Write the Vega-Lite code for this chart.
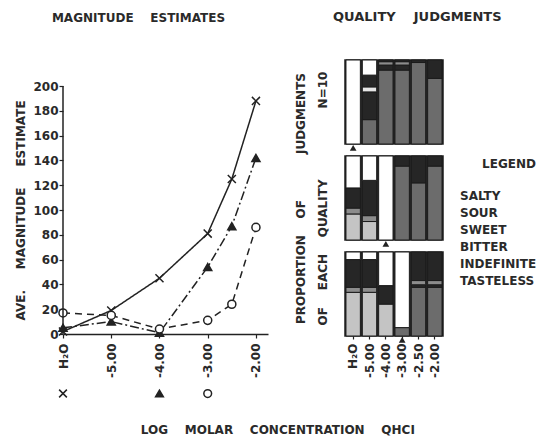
{
  "$schema": "https://vega.github.io/schema/vega-lite/v6.json",
  "padding": {"left": 14, "top": 10, "right": 2, "bottom": 4},
  "background": "white",
  "config": {
    "font": "DejaVu Sans",
    "view": {"stroke": null},
    "axis": {"labelFont": "DejaVu Sans", "labelFontSize": 12, "labelFontWeight": "bold", "labelColor": "#2a2a2a", "titleFont": "DejaVu Sans", "titleFontSize": 12, "titleFontWeight": "bold", "titleColor": "#2a2a2a", "domainColor": "#222222", "tickColor": "#222222", "domainWidth": 1.5, "tickWidth": 1.2, "grid": false},
    "title": {"font": "DejaVu Sans", "fontSize": 12, "fontWeight": "bold", "color": "#2a2a2a"}
  },
  "datasets": {
    "magnitude": [
      {"series": "cross", "conc": -6, "value": 2},
      {"series": "cross", "conc": -5, "value": 19},
      {"series": "cross", "conc": -4, "value": 45},
      {"series": "cross", "conc": -3, "value": 81},
      {"series": "cross", "conc": -2.5, "value": 125},
      {"series": "cross", "conc": -2, "value": 188},
      {"series": "triangle", "conc": -6, "value": 5},
      {"series": "triangle", "conc": -5, "value": 10},
      {"series": "triangle", "conc": -4, "value": 1},
      {"series": "triangle", "conc": -3, "value": 54},
      {"series": "triangle", "conc": -2.5, "value": 87},
      {"series": "triangle", "conc": -2, "value": 142},
      {"series": "circle", "conc": -6, "value": 17},
      {"series": "circle", "conc": -5, "value": 15},
      {"series": "circle", "conc": -4, "value": 4},
      {"series": "circle", "conc": -3, "value": 11},
      {"series": "circle", "conc": -2.5, "value": 24},
      {"series": "circle", "conc": -2, "value": 86}
    ],
    "thresholds": [
      {"series": "cross", "conc": -6},
      {"series": "triangle", "conc": -4},
      {"series": "circle", "conc": -3}
    ],
    "axisLine": [{"conc": -6, "from": 0, "to": 200}],
    "quality": [
      {"panel": 1, "conc": "H\u2082O", "quality": "TASTELESS", "p": 1.0, "seg": 1},
      {"panel": 1, "conc": "-5.00", "quality": "BITTER", "p": 0.29, "seg": 1},
      {"panel": 1, "conc": "-5.00", "quality": "INDEFINITE", "p": 0.33, "seg": 2},
      {"panel": 1, "conc": "-5.00", "quality": "SWEET", "p": 0.06, "seg": 3},
      {"panel": 1, "conc": "-5.00", "quality": "INDEFINITE", "p": 0.14, "seg": 4},
      {"panel": 1, "conc": "-5.00", "quality": "TASTELESS", "p": 0.18, "seg": 5},
      {"panel": 1, "conc": "-4.00", "quality": "BITTER", "p": 0.88, "seg": 1},
      {"panel": 1, "conc": "-4.00", "quality": "INDEFINITE", "p": 0.06, "seg": 2},
      {"panel": 1, "conc": "-4.00", "quality": "SOUR", "p": 0.04, "seg": 3},
      {"panel": 1, "conc": "-4.00", "quality": "INDEFINITE", "p": 0.02, "seg": 4},
      {"panel": 1, "conc": "-3.00", "quality": "BITTER", "p": 0.88, "seg": 1},
      {"panel": 1, "conc": "-3.00", "quality": "INDEFINITE", "p": 0.06, "seg": 2},
      {"panel": 1, "conc": "-3.00", "quality": "SOUR", "p": 0.04, "seg": 3},
      {"panel": 1, "conc": "-3.00", "quality": "INDEFINITE", "p": 0.02, "seg": 4},
      {"panel": 1, "conc": "-2.50", "quality": "BITTER", "p": 0.97, "seg": 1},
      {"panel": 1, "conc": "-2.50", "quality": "INDEFINITE", "p": 0.03, "seg": 2},
      {"panel": 1, "conc": "-2.00", "quality": "BITTER", "p": 0.78, "seg": 1},
      {"panel": 1, "conc": "-2.00", "quality": "INDEFINITE", "p": 0.22, "seg": 2},
      {"panel": 2, "conc": "H\u2082O", "quality": "SALTY", "p": 0.31, "seg": 1},
      {"panel": 2, "conc": "H\u2082O", "quality": "SOUR", "p": 0.07, "seg": 2},
      {"panel": 2, "conc": "H\u2082O", "quality": "INDEFINITE", "p": 0.24, "seg": 3},
      {"panel": 2, "conc": "H\u2082O", "quality": "TASTELESS", "p": 0.38, "seg": 4},
      {"panel": 2, "conc": "-5.00", "quality": "SALTY", "p": 0.22, "seg": 1},
      {"panel": 2, "conc": "-5.00", "quality": "SOUR", "p": 0.07, "seg": 2},
      {"panel": 2, "conc": "-5.00", "quality": "INDEFINITE", "p": 0.42, "seg": 3},
      {"panel": 2, "conc": "-5.00", "quality": "TASTELESS", "p": 0.29, "seg": 4},
      {"panel": 2, "conc": "-4.00", "quality": "TASTELESS", "p": 1.0, "seg": 1},
      {"panel": 2, "conc": "-3.00", "quality": "BITTER", "p": 0.88, "seg": 1},
      {"panel": 2, "conc": "-3.00", "quality": "INDEFINITE", "p": 0.12, "seg": 2},
      {"panel": 2, "conc": "-2.50", "quality": "BITTER", "p": 0.68, "seg": 1},
      {"panel": 2, "conc": "-2.50", "quality": "INDEFINITE", "p": 0.32, "seg": 2},
      {"panel": 2, "conc": "-2.00", "quality": "BITTER", "p": 0.88, "seg": 1},
      {"panel": 2, "conc": "-2.00", "quality": "INDEFINITE", "p": 0.12, "seg": 2},
      {"panel": 3, "conc": "H\u2082O", "quality": "SALTY", "p": 0.52, "seg": 1},
      {"panel": 3, "conc": "H\u2082O", "quality": "SOUR", "p": 0.06, "seg": 2},
      {"panel": 3, "conc": "H\u2082O", "quality": "INDEFINITE", "p": 0.33, "seg": 3},
      {"panel": 3, "conc": "H\u2082O", "quality": "TASTELESS", "p": 0.09, "seg": 4},
      {"panel": 3, "conc": "-5.00", "quality": "SALTY", "p": 0.52, "seg": 1},
      {"panel": 3, "conc": "-5.00", "quality": "SOUR", "p": 0.06, "seg": 2},
      {"panel": 3, "conc": "-5.00", "quality": "INDEFINITE", "p": 0.33, "seg": 3},
      {"panel": 3, "conc": "-5.00", "quality": "TASTELESS", "p": 0.09, "seg": 4},
      {"panel": 3, "conc": "-4.00", "quality": "SALTY", "p": 0.38, "seg": 1},
      {"panel": 3, "conc": "-4.00", "quality": "INDEFINITE", "p": 0.22, "seg": 2},
      {"panel": 3, "conc": "-4.00", "quality": "TASTELESS", "p": 0.40, "seg": 3},
      {"panel": 3, "conc": "-3.00", "quality": "BITTER", "p": 0.10, "seg": 1},
      {"panel": 3, "conc": "-3.00", "quality": "TASTELESS", "p": 0.90, "seg": 2},
      {"panel": 3, "conc": "-2.50", "quality": "BITTER", "p": 0.58, "seg": 1},
      {"panel": 3, "conc": "-2.50", "quality": "INDEFINITE", "p": 0.03, "seg": 2},
      {"panel": 3, "conc": "-2.50", "quality": "SOUR", "p": 0.05, "seg": 3},
      {"panel": 3, "conc": "-2.50", "quality": "INDEFINITE", "p": 0.34, "seg": 4},
      {"panel": 3, "conc": "-2.00", "quality": "BITTER", "p": 0.58, "seg": 1},
      {"panel": 3, "conc": "-2.00", "quality": "INDEFINITE", "p": 0.03, "seg": 2},
      {"panel": 3, "conc": "-2.00", "quality": "SOUR", "p": 0.05, "seg": 3},
      {"panel": 3, "conc": "-2.00", "quality": "INDEFINITE", "p": 0.34, "seg": 4}
    ],
    "qualityThresholds": [
      {"panel": 1, "conc": "H\u2082O"},
      {"panel": 2, "conc": "-4.00"},
      {"panel": 3, "conc": "-3.00"}
    ]
  },
  "title": {"text": "LOG\u00a0\u00a0\u00a0\u00a0MOLAR\u00a0\u00a0\u00a0\u00a0CONCENTRATION\u00a0\u00a0\u00a0\u00a0QHCI", "orient": "bottom", "anchor": "middle", "offset": 25},
  "spacing": 25,
  "hconcat": [
    {
      "width": 205,
      "height": 274,
      "title": {"text": "MAGNITUDE\u00a0\u00a0\u00a0\u00a0ESTIMATES", "anchor": "middle", "frame": "group", "dx": -27, "offset": 35},
      "layer": [
        {
          "data": {"name": "magnitude"},
          "mark": {"type": "line", "color": "#222222", "strokeWidth": 1.5},
          "encoding": {
            "x": {"field": "conc", "type": "quantitative", "scale": {"domain": [-6, -1.75], "nice": false, "zero": false},
              "axis": {"values": [-6, -5, -4, -3, -2], "tickCount": 10, "labelExpr": "datum.value == -6 ? 'H\u2082O' : '-' + format(-datum.value, '.2f')", "labelAngle": -90, "title": null, "tickSize": 4, "labelPadding": 5}},
            "y": {"field": "value", "type": "quantitative", "scale": {"domain": [0, 221], "nice": false},
              "axis": {"values": [0, 20, 40, 60, 80, 100, 120, 140, 160, 180, 200], "tickCount": 20, "labelOverlap": false, "domain": false, "title": "AVE.\u00a0\u00a0\u00a0\u00a0\u00a0MAGNITUDE\u00a0\u00a0\u00a0\u00a0\u00a0ESTIMATE", "titleY": 150, "tickSize": 4, "labelPadding": 1, "titlePadding": 5}},
            "strokeDash": {"field": "series", "type": "nominal", "scale": {"domain": ["cross", "triangle", "circle"], "range": [[1, 0], [9, 3, 2, 3], [7, 5]]}, "legend": null}
          }
        },
        {
          "data": {"name": "magnitude"},
          "mark": {"type": "point", "filled": true, "stroke": "#222222", "strokeWidth": 1.5, "opacity": 1, "size": 65},
          "encoding": {
            "x": {"field": "conc", "type": "quantitative"},
            "y": {"field": "value", "type": "quantitative"},
            "shape": {"field": "series", "type": "nominal", "scale": {"domain": ["cross", "triangle", "circle"], "range": ["M-1,-1L1,1M-1,1L1,-1", "triangle-up", "circle"]}, "legend": null},
            "fill": {"field": "series", "type": "nominal", "scale": {"domain": ["cross", "triangle", "circle"], "range": ["#222222", "#222222", "#ffffff"]}, "legend": null}
          }
        },
        {
          "data": {"name": "thresholds"},
          "mark": {"type": "point", "filled": true, "stroke": "#222222", "strokeWidth": 1.5, "opacity": 1, "size": 60},
          "encoding": {
            "x": {"field": "conc", "type": "quantitative"},
            "y": {"datum": -48},
            "shape": {"field": "series", "type": "nominal", "legend": null},
            "fill": {"field": "series", "type": "nominal", "legend": null}
          }
        },
        {
          "data": {"name": "axisLine"},
          "mark": {"type": "rule", "color": "#222222", "strokeWidth": 1.5},
          "encoding": {
            "x": {"field": "conc", "type": "quantitative"},
            "y": {"field": "from", "type": "quantitative"},
            "y2": {"field": "to"}
          }
        }
      ]
    },
    {
      "title": {"text": "QUALITY\u00a0\u00a0\u00a0\u00a0JUDGMENTS", "anchor": "start", "frame": "group", "dx": -12, "offset": 35, "fontSize": 13},
      "bounds": "flush",
      "spacing": 12,
      "resolve": {"legend": {"color": "independent"}},
      "vconcat": [
        {
          "width": 98,
          "height": 84,
          "view": {"fill": "#262626", "stroke": "#1c1c1c", "strokeWidth": 1.5},
          "layer": [
            {
              "data": {"name": "quality"},
              "transform": [{"filter": "datum.panel == 1"}],
              "mark": {"type": "bar", "stroke": "#1c1c1c", "strokeWidth": 1},
              "encoding": {
                "x": {"field": "conc", "type": "ordinal", "scale": {"domain": ["H\u2082O", "-5.00", "-4.00", "-3.00", "-2.50", "-2.00"], "paddingInner": 0.12, "paddingOuter": 0.06}, "axis": null},
                "y": {"field": "p", "type": "quantitative", "stack": "zero", "scale": {"domain": [0, 1], "nice": false}, "axis": null},
                "color": {"field": "quality", "type": "nominal", "scale": {"domain": ["SALTY", "SOUR", "SWEET", "BITTER", "INDEFINITE", "TASTELESS"], "range": ["#c4c4c4", "#8c8c8c", "#e6e6e6", "#6c6c6c", "#262626", "#ffffff"]}, "legend": null},
                "order": {"field": "seg", "type": "quantitative"}
              }
            },
            {
              "data": {"name": "qualityThresholds"},
              "transform": [{"filter": "datum.panel == 1"}],
              "mark": {"type": "point", "shape": "triangle-up", "filled": true, "color": "#222222", "opacity": 1, "size": 45},
              "encoding": {
                "x": {"field": "conc", "type": "ordinal"},
                "y": {"datum": -0.045}
              }
            }
          ]
        },
        {
          "width": 98,
          "height": 84,
          "view": {"fill": "#262626", "stroke": "#1c1c1c", "strokeWidth": 1.5},
          "layer": [
            {
              "data": {"name": "quality"},
              "transform": [{"filter": "datum.panel == 2"}],
              "mark": {"type": "bar", "stroke": "#1c1c1c", "strokeWidth": 1},
              "encoding": {
                "x": {"field": "conc", "type": "ordinal", "scale": {"domain": ["H\u2082O", "-5.00", "-4.00", "-3.00", "-2.50", "-2.00"], "paddingInner": 0.12, "paddingOuter": 0.06}, "axis": null},
                "y": {"field": "p", "type": "quantitative", "stack": "zero", "scale": {"domain": [0, 1], "nice": false},
                  "axis": {"title": ["PROPORTION\u00a0\u00a0\u00a0\u00a0OF\u00a0\u00a0\u00a0\u00a0\u00a0\u00a0\u00a0\u00a0\u00a0\u00a0\u00a0JUDGMENTS", "OF\u00a0\u00a0\u00a0\u00a0EACH\u00a0\u00a0\u00a0\u00a0QUALITY\u00a0\u00a0\u00a0\u00a0\u00a0\u00a0\u00a0\u00a0\u00a0\u00a0\u00a0\u00a0\u00a0\u00a0\u00a0\u00a0\u00a0N=10"], "labels": false, "ticks": false, "domain": false, "titlePadding": 16, "titleLineHeight": 22}},
                "color": {"field": "quality", "type": "nominal", "scale": {"domain": ["SALTY", "SOUR", "SWEET", "BITTER", "INDEFINITE", "TASTELESS"], "range": ["#c4c4c4", "#8c8c8c", "#e6e6e6", "#6c6c6c", "#262626", "#ffffff"]},
                  "legend": {"title": "LEGEND", "orient": "right", "offset": 2, "padding": 3, "titleAnchor": "end", "titlePadding": 19, "titleFont": "DejaVu Sans", "titleFontSize": 12, "titleFontWeight": "bold", "titleColor": "#2a2a2a", "labelFont": "DejaVu Sans", "labelFontSize": 12, "labelFontWeight": "bold", "labelColor": "#2a2a2a", "labelOffset": 0, "symbolOpacity": 0, "symbolSize": 1, "symbolStrokeWidth": 0, "rowPadding": 5}},
                "order": {"field": "seg", "type": "quantitative"}
              }
            },
            {
              "data": {"name": "qualityThresholds"},
              "transform": [{"filter": "datum.panel == 2"}],
              "mark": {"type": "point", "shape": "triangle-up", "filled": true, "color": "#222222", "opacity": 1, "size": 45},
              "encoding": {
                "x": {"field": "conc", "type": "ordinal"},
                "y": {"datum": -0.045}
              }
            }
          ]
        },
        {
          "width": 98,
          "height": 84,
          "view": {"fill": "#262626", "stroke": "#1c1c1c", "strokeWidth": 1.5},
          "layer": [
            {
              "data": {"name": "quality"},
              "transform": [{"filter": "datum.panel == 3"}],
              "mark": {"type": "bar", "stroke": "#1c1c1c", "strokeWidth": 1},
              "encoding": {
                "x": {"field": "conc", "type": "ordinal", "scale": {"domain": ["H\u2082O", "-5.00", "-4.00", "-3.00", "-2.50", "-2.00"], "paddingInner": 0.12, "paddingOuter": 0.06},
                  "axis": {"labelAngle": -90, "title": null, "domain": false, "tickSize": 3, "labelPadding": 4, "labelOverlap": false}},
                "y": {"field": "p", "type": "quantitative", "stack": "zero", "scale": {"domain": [0, 1], "nice": false}, "axis": null},
                "color": {"field": "quality", "type": "nominal", "scale": {"domain": ["SALTY", "SOUR", "SWEET", "BITTER", "INDEFINITE", "TASTELESS"], "range": ["#c4c4c4", "#8c8c8c", "#e6e6e6", "#6c6c6c", "#262626", "#ffffff"]}, "legend": null},
                "order": {"field": "seg", "type": "quantitative"}
              }
            },
            {
              "data": {"name": "qualityThresholds"},
              "transform": [{"filter": "datum.panel == 3"}],
              "mark": {"type": "point", "shape": "triangle-up", "filled": true, "color": "#222222", "opacity": 1, "size": 45},
              "encoding": {
                "x": {"field": "conc", "type": "ordinal"},
                "y": {"datum": -0.045}
              }
            }
          ]
        }
      ]
    }
  ]
}
